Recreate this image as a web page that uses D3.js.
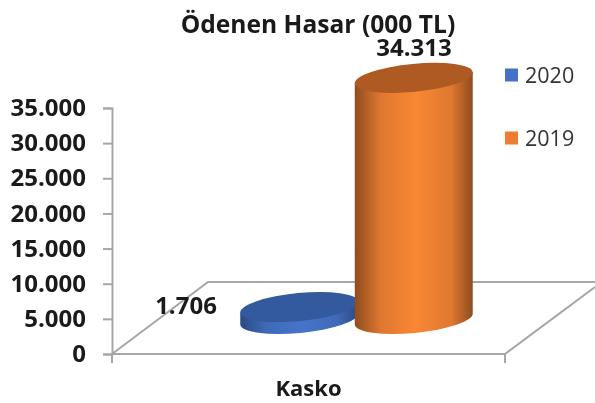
<!DOCTYPE html>
<html>
<head>
<meta charset="utf-8">
<style>
  body { margin: 0; background: #fff; }
  svg { filter: blur(0.4px); }
  text { font-family: "Open Sans", sans-serif; }
</style>
<script src="https://d3js.org/d3.v7.min.js"></script>
</head>
<body>
<script>
var categories = ["Kasko"];
var seriesNames = ["2020", "2019"];
var seriesValues = [1706, 34313];
var valueLabels = ["1.706", "34.313"];
var tickValues = [0, 5000, 10000, 15000, 20000, 25000, 30000, 35000];
var tickLabels = ["0", "5.000", "10.000", "15.000", "20.000", "25.000", "30.000", "35.000"];
var seriesColors = [
  { top: "#335a9c", mid: "#4674c8", dark: "#2a4a82" },
  { top: "#ae5a22", mid: "#f98734", dark: "#8f4c1e" }
];

var width = 595, height = 403;
var svg = d3.select("body").append("svg").attr("width", width).attr("height", height);

var y = d3.scaleLinear().domain([0, 35000]).range([354, 108]);
var x = d3.scaleBand().domain(categories).range([112, 505]);
var xSeries = d3.scaleBand().domain(seriesNames).range([196, 425]);

// floor depth of the 3d box, bars sit half way in
var depthX = 96, depthY = 72;
var barDx = 46, barDy = 35, tilt = -5.5;
var tiltRad = tilt * Math.PI / 180;

var defs = svg.append("defs");
seriesColors.forEach(function(c, i) {
  var g = defs.append("linearGradient").attr("id", "side" + i);
  g.append("stop").attr("offset", "0%").attr("stop-color", c.dark);
  g.append("stop").attr("offset", "22%").attr("stop-color", d3.interpolateRgb(c.dark, c.mid)(0.75));
  g.append("stop").attr("offset", "52%").attr("stop-color", c.mid);
  g.append("stop").attr("offset", "82%").attr("stop-color", d3.interpolateRgb(c.dark, c.mid)(0.75));
  g.append("stop").attr("offset", "100%").attr("stop-color", c.dark);
});

// floor
var front = y(0), x0 = x.range()[0], x1 = x.range()[1];
svg.append("path")
  .attr("d", "M" + x0 + "," + front + "L" + (x0 + depthX) + "," + (front - depthY) +
    "L" + width + "," + (front - depthY) + "M" + x0 + "," + front + "L" + x1 + "," + front +
    "L" + width + "," + (front - 67))
  .attr("fill", "none").attr("stroke", "#a6a6a6").attr("stroke-width", 2);

// value axis
var yAxis = d3.axisLeft(y).tickValues(tickValues)
  .tickFormat(function(d, i) { return tickLabels[i]; }).tickSize(9).tickPadding(17);
var gy = svg.append("g").attr("transform", "translate(" + x0 + ",0)").call(yAxis);
gy.selectAll("path, line").attr("stroke", "#a6a6a6").attr("stroke-width", 2);
gy.selectAll("text").attr("font-size", 24).attr("font-weight", 700).attr("fill", "#1a1a1a")
  .style("font-family", '"Open Sans", sans-serif');

// category tick marks
svg.selectAll(".xtick").data(x.range()).enter().append("line")
  .attr("x1", function(d) { return d; }).attr("x2", function(d) { return d; })
  .attr("y1", front).attr("y2", front + 9)
  .attr("stroke", "#a6a6a6").attr("stroke-width", 2);

// cylinders
seriesNames.forEach(function(name, i) {
  var rx = xSeries.bandwidth() / 2 + 2, ry = 14;
  var cx = xSeries(name) + xSeries.bandwidth() / 2 + barDx;
  var yBase = front - barDy, yTop = y(seriesValues[i]) - barDy;
  var ox = rx * Math.cos(tiltRad), oy = rx * Math.sin(tiltRad);
  var g = svg.append("g");
  g.append("path")
    .attr("d", "M" + (cx - ox) + "," + (yTop - oy) + "L" + (cx - ox) + "," + (yBase - oy) +
      "A" + rx + "," + ry + " " + tilt + " 0 0 " + (cx + ox) + "," + (yBase + oy) +
      "L" + (cx + ox) + "," + (yTop + oy) + "Z")
    .attr("fill", "url(#side" + i + ")");
  g.append("ellipse").attr("rx", rx).attr("ry", ry)
    .attr("transform", "translate(" + cx + "," + yTop + ") rotate(" + tilt + ")")
    .attr("fill", seriesColors[i].top);
});

// value labels
svg.append("text").attr("x", 186).attr("y", y(seriesValues[0]) - 28)
  .attr("text-anchor", "middle").attr("font-size", 24).attr("font-weight", 700).attr("fill", "#1a1a1a")
  .text(valueLabels[0]);
svg.append("text").attr("x", 414).attr("y", y(seriesValues[1]) - 57)
  .attr("text-anchor", "middle").attr("font-size", 24).attr("font-weight", 700).attr("fill", "#1a1a1a")
  .text(valueLabels[1]);

// title and category label
svg.append("text").attr("x", 318).attr("y", 33).attr("text-anchor", "middle")
  .attr("font-size", 24.6).attr("font-weight", 700).attr("fill", "#1a1a1a").text("Ödenen Hasar (000 TL)");
svg.append("text").attr("x", x(categories[0]) + x.bandwidth() / 2).attr("y", 396).attr("text-anchor", "middle")
  .attr("font-size", 22).attr("font-weight", 700).attr("fill", "#1a1a1a").text(categories[0]);

// legend
var legendY = d3.scalePoint().domain(seriesNames).range([75, 138]);
seriesNames.forEach(function(name, i) {
  svg.append("rect").attr("x", 505).attr("y", legendY(name) - 6.5).attr("width", 13).attr("height", 13)
    .attr("fill", i == 0 ? "#4472c4" : "#ed7d31");
  svg.append("text").attr("x", 525).attr("y", legendY(name) + 8)
    .attr("font-size", 21.5).attr("fill", "#333").text(name);
});
</script>
</body>
</html>
